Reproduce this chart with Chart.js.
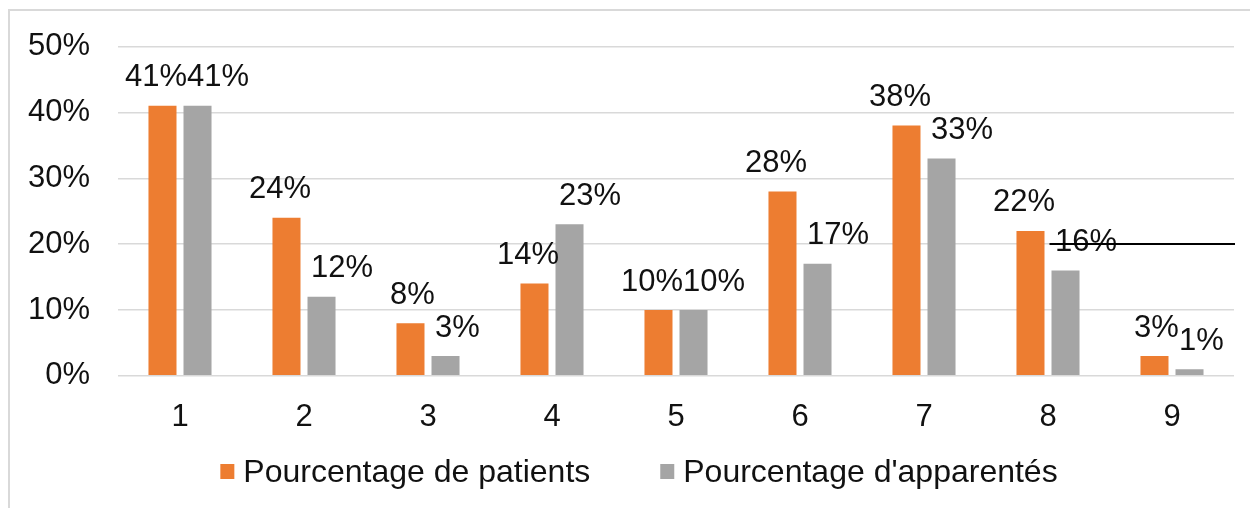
<!DOCTYPE html>
<html>
<head>
<meta charset="utf-8">
<script src="https://cdn.jsdelivr.net/npm/chart.js@4.4.1/dist/chart.umd.min.js"></script>
<style>
    html, body { margin: 0; padding: 0; background: #fff; overflow: hidden; }
    #frame {
        position: absolute; left: 8px; top: 9px;
        width: 1260px; height: 520px;
        border: 2px solid #d9d9d9; box-sizing: border-box;
    }
    #wrap { position: absolute; left: 0; top: 0; width: 1250px; height: 508px; }
</style>
</head>
<body>
<div id="frame"></div>
<div id="wrap"><canvas id="chart"></canvas></div>
<script>
// Data
const categories = ['1', '2', '3', '4', '5', '6', '7', '8', '9'];
const patients = [41, 24, 8, 14, 10, 28, 38, 22, 3];
const relatives = [41, 12, 3, 23, 10, 17, 33, 16, 1];
const yTicks = [0, 10, 20, 30, 40, 50];

const FONT = '"Liberation Sans", Arial, sans-serif';

// Value labels above each bar (gray labels nudged right, pushed off the orange ones when they collide)
const barLabels = {
    id: 'barLabels',
    afterDatasetsDraw(chart) {
        const ctx = chart.ctx;
        ctx.save();
        ctx.font = '31px ' + FONT;
        ctx.fillStyle = '#111';
        ctx.textAlign = 'center';
        ctx.textBaseline = 'middle';
        const m0 = chart.getDatasetMeta(0).data;
        const m1 = chart.getDatasetMeta(1).data;
        for (let i = 0; i < categories.length; i++) {
            const t0 = patients[i] + '%';
            const t1 = relatives[i] + '%';
            const w0 = ctx.measureText(t0).width;
            const w1 = ctx.measureText(t1).width;
            let x0 = m0[i].x + 2;
            let x1 = m1[i].x + 12;
            const overlap = (x0 + w0 / 2) - (x1 - w1 / 2);
            if (overlap > 0) {
                x0 -= overlap / 2;
                x1 += overlap / 2;
            }
            ctx.fillText(t0, x0, m0[i].y - 28);
            ctx.fillText(t1, x1, m1[i].y - 28);
        }
        // the stray black rule at 20% seen at the right of the reference
        const y20 = chart.scales.y.getPixelForValue(20);
        const bar = m1[7];
        ctx.strokeStyle = '#000';
        ctx.lineWidth = 2;
        ctx.beginPath();
        ctx.moveTo(bar.x - bar.width / 2 - 2, y20);
        ctx.lineTo(chart.chartArea.right + 1, y20);
        ctx.stroke();
        ctx.restore();
    }
};

// Legend drawn by hand: Excel-style spacing (small box, wide gap between items)
const bottomLegend = {
    id: 'bottomLegend',
    afterDraw(chart) {
        const ctx = chart.ctx;
        const sets = chart.data.datasets;
        ctx.save();
        ctx.font = '32px ' + FONT;
        ctx.textBaseline = 'middle';
        ctx.textAlign = 'left';
        const box = 14, gap = 9, itemGap = 70;
        const widths = sets.map(ds => box + gap + ctx.measureText(ds.label).width);
        const total = widths.reduce((a, b) => a + b, 0) + itemGap * (sets.length - 1);
        const cy = chart.height - 36;
        let x = chart.width / 2 + 14 - total / 2;
        sets.forEach((ds, i) => {
            ctx.fillStyle = ds.backgroundColor;
            ctx.fillRect(x, cy - 8, box, 15);
            ctx.fillStyle = '#111';
            ctx.fillText(ds.label, x + box + gap, cy + 1);
            x += widths[i] + itemGap;
        });
        ctx.restore();
    }
};

new Chart(document.getElementById('chart'), {
    type: 'bar',
    data: {
        labels: categories,
        datasets: [
            {
                label: 'Pourcentage de patients',
                data: patients,
                backgroundColor: '#ED7D31',
                categoryPercentage: 0.565,
                barPercentage: 0.8
            },
            {
                label: "Pourcentage d'apparentés",
                data: relatives,
                backgroundColor: '#A5A5A5',
                categoryPercentage: 0.565,
                barPercentage: 0.8
            }
        ]
    },
    options: {
        responsive: true,
        maintainAspectRatio: false,
        animation: false,
        layout: { padding: { left: 0, top: 43, right: 16, bottom: 49 } },
        scales: {
            x: {
                grid: { display: false, drawTicks: false },
                border: { display: false },
                ticks: { color: '#111', font: { family: FONT, size: 31 }, padding: 23 }
            },
            y: {
                min: 0,
                max: 50,
                afterBuildTicks(scale) {
                    scale.ticks = yTicks.map(v => ({ value: v }));
                },
                afterFit(scale) { scale.width = 118; },
                grid: { color: '#d9d9d9', lineWidth: 1.5, drawTicks: false },
                border: { display: false },
                ticks: {
                    color: '#111',
                    font: { family: FONT, size: 31 },
                    padding: 28,
                    callback: v => v + '%'
                }
            }
        },
        plugins: {
            legend: { display: false },
            tooltip: { enabled: false }
        }
    },
    plugins: [barLabels, bottomLegend]
});
</script>
</body>
</html>
